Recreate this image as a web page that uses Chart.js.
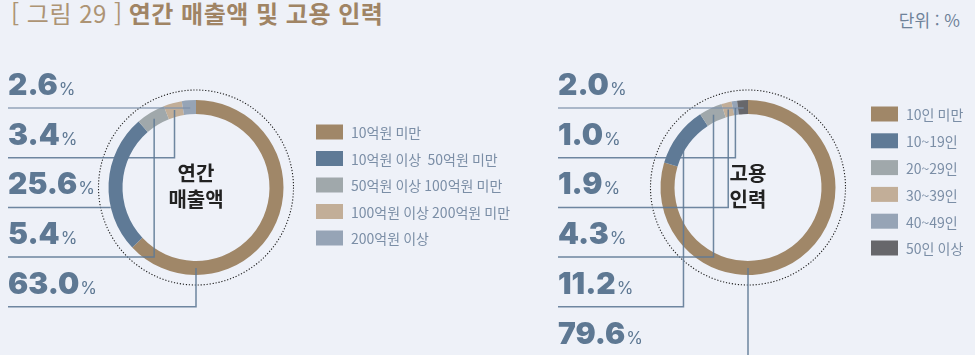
<!DOCTYPE html>
<html lang="ko">
<head>
  <meta charset="UTF-8" />
  <title>연간 매출액 및 고용 인력</title>
  <script src="https://cdn.jsdelivr.net/npm/chart.js"></script>
  <style>
    body {
      margin: 0;
      width: 975px;
      height: 355px;
      overflow: hidden;
      background-color: #eef1f8;
      font-family: "Noto Sans CJK KR", sans-serif;
      position: relative;
    }

    .title {
      position: absolute;
      left: 11px;
      top: -5px;
      font-size: 24px;
      letter-spacing: 0.5px;
      color: #ad9474;
      white-space: nowrap;
    }

    .title b {
      color: #a08464;
      margin-left: 6px;
    }

    .unit {
      position: absolute;
      right: 15px;
      top: 7px;
      font-size: 17px;
      color: #6e8299;
    }

    canvas {
      position: absolute;
      top: 0;
    }
  </style>
</head>
<body>

  <div class="title">[ 그림 29 ]<b>연간 매출액 및 고용 인력</b></div>
  <div class="unit">단위 : %</div>

  <canvas id="salesChart" width="540" height="355" style="left:0"></canvas>
  <canvas id="staffChart" width="435" height="355" style="left:540px"></canvas>

  <script>
    // 연간 매출액
    const salesLabels = ['10억원 미만', '10억원 이상  50억원 미만', '50억원 이상 100억원 미만', '100억원 이상 200억원 미만', '200억원 이상'];
    const salesValues = [63.0, 25.6, 5.4, 3.4, 2.6];
    const salesColors = ['#a08768', '#5f7a96', '#a0a8ab', '#c2ae98', '#96a4b6'];
    const salesRows = [4, 3, 1, 2, 0]; // label rows, top to bottom

    // 고용 인력
    const staffLabels = ['10인 미만', '10~19인', '20~29인', '30~39인', '40~49인', '50인 이상'];
    const staffValues = [79.6, 11.2, 4.3, 1.9, 1.0, 2.0];
    const staffColors = ['#a08768', '#5f7a96', '#a0a8ab', '#c2ae98', '#96a4b6', '#67676b'];
    const staffRows = [5, 4, 3, 2, 1, 0];

    const TWO_PI = Math.PI * 2;

    function inArc(a, start, end) {
      while (a < start) a += TWO_PI;
      while (a - TWO_PI >= start) a -= TWO_PI;
      return a <= end;
    }

    // dotted ring, centre title, value labels with leader lines, legend
    const decorPlugin = {
      id: 'decor',
      afterDatasetsDraw(chart, args, opts) {
        const ctx = chart.ctx;
        const meta = chart.getDatasetMeta(0);
        const values = chart.data.datasets[0].data;
        const colors = chart.data.datasets[0].backgroundColor;
        const first = meta.data[0].getProps(['x', 'y', 'outerRadius', 'innerRadius'], true);
        const cx = first.x, cy = first.y;

        ctx.save();

        // dotted outline
        ctx.beginPath();
        ctx.setLineDash([1.2, 1.8]);
        ctx.strokeStyle = '#1e1e1e';
        ctx.lineWidth = 1.1;
        ctx.arc(cx, cy, first.outerRadius + 10, 0, TWO_PI);
        ctx.stroke();
        ctx.setLineDash([]);

        // centre title
        ctx.fillStyle = '#222';
        ctx.font = 'bold 20px "Noto Sans CJK KR"';
        ctx.textAlign = 'center';
        ctx.textBaseline = 'middle';
        opts.center.forEach((t, i) => ctx.fillText(t, cx, cy - 14 + i * 26));

        // leader lines
        opts.rows.forEach((idx, row) => {
          const arc = meta.data[idx].getProps(['x', 'y', 'startAngle', 'endAngle', 'innerRadius', 'outerRadius'], true);
          const rowY = opts.rowTop + row * opts.rowGap;
          const midR = (arc.innerRadius + arc.outerRadius) / 2;
          ctx.beginPath();
          ctx.lineWidth = 1.5;
          ctx.strokeStyle = row === 0 ? 'rgba(125,145,170,0.8)' : 'rgba(95,122,150,0.9)';
          ctx.moveTo(opts.labelX, rowY);

          let done = false;
          const dy = rowY - arc.y;
          if (Math.abs(dy) < arc.outerRadius) {
            const dx = -Math.sqrt(arc.outerRadius ** 2 - dy ** 2);
            if (inArc(Math.atan2(dy, dx), arc.startAngle, arc.endAngle)) {
              ctx.lineTo(arc.x + dx, rowY);
              done = true;
            }
          }
          if (!done) {
            let a = (arc.startAngle + arc.endAngle) / 2;
            if (inArc(Math.PI / 2, arc.startAngle, arc.endAngle)) a = Math.PI / 2;
            const ax = arc.x + midR * Math.cos(a);
            const ay = arc.y + midR * Math.sin(a);
            ctx.lineTo(ax, rowY);
            ctx.lineTo(ax, ay);
          }
          ctx.stroke();

          // value label
          const num = values[idx].toFixed(1);
          ctx.textAlign = 'left';
          ctx.textBaseline = 'alphabetic';
          ctx.fillStyle = '#5e7893';
          ctx.font = '900 30px Inter';
          ctx.fillText(num, opts.labelX, rowY - 13);
          const w = ctx.measureText(num).width;
          ctx.font = '400 17px Inter';
          ctx.fillText('%', opts.labelX + w + 1, rowY - 13);
        });

        // legend
        ctx.font = '14px "Noto Sans CJK KR"';
        ctx.textBaseline = 'middle';
        chart.data.labels.forEach((label, i) => {
          const y = opts.legendTop + i * opts.legendGap;
          ctx.fillStyle = colors[i];
          ctx.fillRect(opts.legendX, y - 7.5, 27, 15);
          ctx.fillStyle = '#7b8ea6';
          ctx.fillText(label, opts.legendX + 35, y + 1);
        });

        ctx.restore();
      }
    };

    function makeDoughnut(id, labels, values, colors, padding, decor) {
      return new Chart(document.getElementById(id), {
        type: 'doughnut',
        data: {
          labels: labels,
          datasets: [{
            data: values,
            backgroundColor: colors,
            borderWidth: 0,
            hoverOffset: 0
          }]
        },
        options: {
          responsive: false,
          animation: false,
          cutout: '84%',
          layout: { padding: padding },
          events: [],
          plugins: {
            legend: { display: false },
            tooltip: { enabled: false },
            decor: decor
          }
        },
        plugins: [decorPlugin]
      });
    }

    makeDoughnut('salesChart', salesLabels, salesValues, salesColors,
      { left: 108.5, right: 256.5, top: 100, bottom: 80 },
      { rows: salesRows, labelX: 8, rowTop: 108, rowGap: 49.7, center: ['연간', '매출액'], legendX: 316, legendTop: 132, legendGap: 26.5 });

    makeDoughnut('staffChart', staffLabels, staffValues, staffColors,
      { left: 120.5, right: 139.5, top: 100, bottom: 80 },
      { rows: staffRows, labelX: 18, rowTop: 108, rowGap: 49.7, center: ['고용', '인력'], legendX: 331, legendTop: 114, legendGap: 26.8 });
  </script>

</body>
</html>
